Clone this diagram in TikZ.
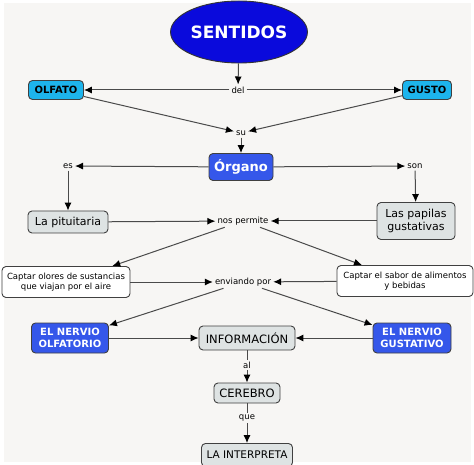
\documentclass[tikz,border=0pt]{standalone}
\usepackage{fontspec}
\setmainfont{DejaVu Sans}
\usetikzlibrary{shapes.geometric,arrows.meta}
\definecolor{mapbg}{HTML}{F7F6F4}
\definecolor{deepblue}{HTML}{0A0ADC}
\definecolor{skyblue}{HTML}{1DB4EC}
\definecolor{royalblue}{HTML}{3557EA}
\definecolor{boxgray}{HTML}{DEE3E3}
\definecolor{linegray}{HTML}{4A4A4A}
\begin{document}
\begin{tikzpicture}[x=1pt,y=-1pt,
  concept/.style={draw=black!75,rounded corners=4pt,line width=0.9pt,align=center,inner sep=2pt},
  titlenode/.style={ellipse,draw=black!80,line width=0.9pt,fill=deepblue,text=white,
    font=\fontsize{17}{20}\bfseries\selectfont,minimum width=132,minimum height=62,inner sep=0pt},
  cyanbox/.style={concept,fill=skyblue,font=\fontsize{10}{12}\bfseries\selectfont,minimum height=19},
  bluebox/.style={concept,fill=royalblue,text=white,font=\fontsize{10}{12}\bfseries\selectfont},
  graybox/.style={concept,fill=boxgray,font=\fontsize{11}{13}\selectfont},
  whitebox/.style={concept,fill=white,font=\fontsize{8.5}{10.5}\selectfont},
  link/.style={font=\fontsize{8.5}{10}\selectfont,fill=mapbg,inner sep=2pt},
  arr/.style={draw=linegray,line width=1pt,-{Latex[length=8pt,width=7pt,black]}},
  plain/.style={draw=linegray,line width=1pt}]

  % background
  \fill[white] (0,0) rectangle (474,465);
  \fill[mapbg] (4,3) rectangle (471,462);
  \clip (0,0) rectangle (474,465);

  % concepts
  \node[titlenode] (sentidos) at (239,32) {SENTIDOS};
  \node[cyanbox,minimum width=55] (olfato) at (56,90) {OLFATO};
  \node[cyanbox,minimum width=49] (gusto) at (427,90) {GUSTO};
  \node[bluebox,font=\fontsize{13}{15}\bfseries\selectfont,minimum width=64,minimum height=27] (organo) at (241,167) {Órgano};
  \node[graybox,minimum width=80,minimum height=22] (pituitaria) at (68,222) {La pituitaria};
  \node[graybox,minimum width=78,minimum height=37] (papilas) at (416,221) {Las papilas\\gustativas};
  \node[whitebox,minimum width=128,minimum height=31] (olores) at (66,282) {Captar olores de sustancias\\que viajan por el aire};
  \node[whitebox,minimum width=136,minimum height=31] (sabor) at (405,281) {Captar el sabor de alimentos\\y bebidas};
  \node[bluebox,minimum width=77,minimum height=30] (olfatorio) at (70,338) {EL NERVIO\\OLFATORIO};
  \node[bluebox,minimum width=78,minimum height=30] (gustativo) at (412,338) {EL NERVIO\\GUSTATIVO};
  \node[graybox,font=\fontsize{11.5}{13}\selectfont,minimum width=96,minimum height=24] (informacion) at (247,338) {INFORMACIÓN};
  \node[graybox,font=\fontsize{11.5}{13}\selectfont,minimum width=66,minimum height=20] (cerebro) at (247,393) {CEREBRO};
  \node[graybox,font=\fontsize{10.5}{12}\selectfont,minimum width=91,minimum height=23] (interpreta) at (247,455) {LA INTERPRETA};

  % linking phrases
  \node[link] (del) at (238,90) {del};
  \node[link] (su) at (241,133) {su};
  \node[link] (es) at (68,166) {es};
  \node[link] (son) at (415,166) {son};
  \node[link] (permite) at (243,221) {nos permite};
  \node[link] (enviando) at (243,282) {enviando por};
  \node[link] (al) at (247,365) {al};
  \node[link] (que) at (247,418) {que};

  % connectors
  \draw[arr] (sentidos) -- (del);
  \draw[arr] (del) -- (olfato);
  \draw[arr] (del) -- (gusto);
  \draw[arr] (olfato) -- (su);
  \draw[arr] (gusto) -- (su);
  \draw[arr] (su) -- (organo);
  \draw[arr] (organo) -- (es);
  \draw[arr] (organo) -- (son);
  \draw[arr] (es) -- (pituitaria);
  \draw[arr] (son) -- (papilas);
  \draw[arr] (pituitaria) -- (permite);
  \draw[arr] (papilas) -- (permite);
  \draw[arr] (permite) -- (olores);
  \draw[arr] (permite) -- (sabor);
  \draw[arr] (olores) -- (enviando);
  \draw[arr] (sabor) -- (enviando);
  \draw[arr] (enviando) -- (olfatorio);
  \draw[arr] (enviando) -- (gustativo);
  \draw[arr] (olfatorio) -- (informacion);
  \draw[arr] (gustativo) -- (informacion);
  \draw[plain] (informacion) -- (al);
  \draw[arr] (al) -- (cerebro);
  \draw[plain] (cerebro) -- (que);
  \draw[arr] (que) -- (interpreta);
\end{tikzpicture}
\end{document}
